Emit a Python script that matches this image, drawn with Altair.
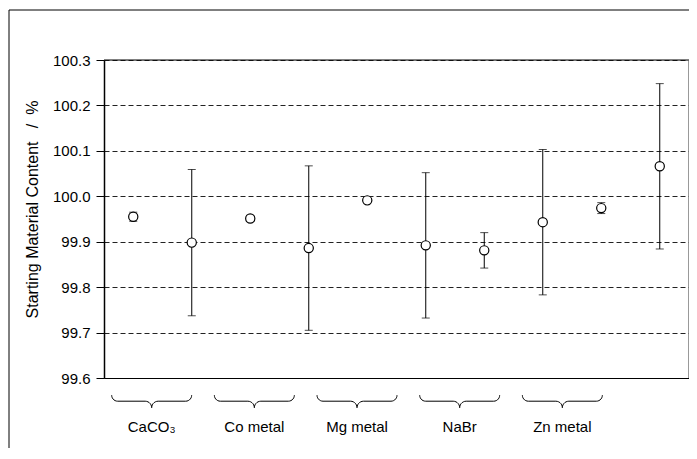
import altair as alt
import pandas as pd
import numpy as np

# ---- data ----
categories = ["CaCO₃", "Co metal", "Mg metal", "NaBr", "Zn metal"]
series_a_mean = [99.955, 99.951, 99.991, 99.881, 99.974]
series_a_err = [0.010, 0.006, 0.002, 0.039, 0.012]
series_b_mean = [99.898, 99.886, 99.892, 99.943, 100.066]
series_b_err = [0.161, 0.181, 0.160, 0.160, 0.182]
y_ticks = [99.6, 99.7, 99.8, 99.9, 100.0, 100.1, 100.2, 100.3]
y_title = "Starting Material Content\u00a0\u00a0\u00a0/\u00a0\u00a0%"

FONT = "Liberation Sans"
W, H = 585, 318
Y0, Y1 = 99.6, 100.3
PX_PER_UNIT_Y = H / (Y1 - Y0)
PX_PER_UNIT_X = W / 10.0

rows = []
for i, c in enumerate(categories):
    pairs = [(series_a_mean[i], series_a_err[i]), (series_b_mean[i], series_b_err[i])]
    for j, (m, e) in enumerate(pairs):
        rows.append({"category": c, "series": "AB"[j], "pos": 2 * i + j + 0.5,
                     "mean": m, "low": m - e, "high": m + e})
df = pd.DataFrame(rows)

# brace decoration (geometry in pixels, converted to data units)
brace_start, brace_step = 0.815, 1.755
def brace_template():
    pts = []
    r1 = 6.0
    for t in np.linspace(0, np.pi / 2, 8):
        pts.append((-40 + r1 - r1 * np.cos(t), r1 * np.sin(t)))
    r2 = 6.5
    for t in np.linspace(-np.pi / 2, 0, 8):
        pts.append((-r2 + r2 * np.cos(t), 6.0 + r2 + r2 * np.sin(t)))
    right = [(-x, y) for (x, y) in reversed(pts)]
    return pts + right[1:]

tmpl = brace_template()
brace_rows = []
label_rows = []
for i, c in enumerate(categories):
    cx = brace_start + i * brace_step
    for k, (dx, dy) in enumerate(tmpl):
        brace_rows.append({"brace": c, "k": k,
                           "x": cx + dx / PX_PER_UNIT_X,
                           "y": Y0 - (17.2 + dy) / PX_PER_UNIT_Y})
    label_rows.append({"category": c, "x": cx, "y": Y0 - 54.4 / PX_PER_UNIT_Y})
braces = pd.DataFrame(brace_rows)
labels = pd.DataFrame(label_rows)

xscale = alt.Scale(domain=[0, 10], nice=False)
yscale = alt.Scale(domain=[Y0, Y1], nice=False, zero=False)
xaxis = alt.Axis(labels=False, ticks=False, grid=False, domainColor="#000",
                 domainWidth=1, title=None)
yaxis = alt.Axis(values=y_ticks, format=".1f", title=y_title,
                 tickSize=8, labelPadding=6, tickColor="#000", domainColor="#000",
                 domainWidth=1.5, grid=True, gridDash=[5, 3], gridColor="#222",
                 gridWidth=1, labelFontSize=15, labelColor="#000", labelFont=FONT,
                 titleFontSize=16, titleFontWeight="normal", titleFont=FONT,
                 titleColor="#000", titleX=-72, titleY=149, titleBaseline="middle")

base = alt.Chart(df)
X = alt.X("pos:Q", scale=xscale, axis=xaxis)

bars = base.mark_rule(color="#000", strokeWidth=1).encode(
    x=X, y=alt.Y("low:Q", scale=yscale, axis=yaxis), y2="high:Q")
cap_lo = base.mark_tick(orient="horizontal", size=8, thickness=1, color="#000").encode(
    x=X, y=alt.Y("low:Q", scale=yscale, axis=yaxis))
cap_hi = base.mark_tick(orient="horizontal", size=8, thickness=1, color="#000").encode(
    x=X, y=alt.Y("high:Q", scale=yscale, axis=yaxis))
pts = base.mark_point(shape="circle", filled=True, fill="white", stroke="#000",
                      strokeWidth=1.2, size=85, opacity=1).encode(
    x=X, y=alt.Y("mean:Q", scale=yscale, axis=yaxis))

brace_lines = alt.Chart(braces).mark_line(color="#000", strokeWidth=1).encode(
    x=alt.X("x:Q", scale=xscale, axis=xaxis),
    y=alt.Y("y:Q", scale=yscale, axis=yaxis),
    detail="brace:N", order="k:Q")
brace_text = alt.Chart(labels).mark_text(font=FONT, fontSize=15, color="#000",
                                         baseline="alphabetic", align="center").encode(
    x=alt.X("x:Q", scale=xscale, axis=xaxis),
    y=alt.Y("y:Q", scale=yscale, axis=yaxis),
    text="category:N")

one = pd.DataFrame({"a": [0]})
top_border = alt.Chart(one).mark_rule(color="#000", strokeWidth=1).encode(
    x=alt.value(0), x2=alt.value(W), y=alt.value(0))
right_border = alt.Chart(one).mark_rule(color="#777", strokeWidth=1.5).encode(
    x=alt.value(W), y=alt.value(0), y2=alt.value(H))
frame_top = alt.Chart(one).mark_rule(color="#000", strokeWidth=1).encode(
    x=alt.value(-95), x2=alt.value(700), y=alt.value(-50))
frame_left = alt.Chart(one).mark_rule(color="#000", strokeWidth=1).encode(
    x=alt.value(-95), y=alt.value(-50), y2=alt.value(420))

chart = alt.layer(
    bars, cap_lo, cap_hi, pts, brace_lines, brace_text,
    top_border, right_border, frame_top, frame_left
).properties(
    width=W, height=H,
    autosize=alt.AutoSizeParams(type="none"),
    padding={"left": 96, "top": 52, "right": 0, "bottom": 70},
    background="white",
).configure_view(stroke=None).configure(font=FONT)

chart.save("out.html", embed_options={"renderer": "svg", "actions": False})
